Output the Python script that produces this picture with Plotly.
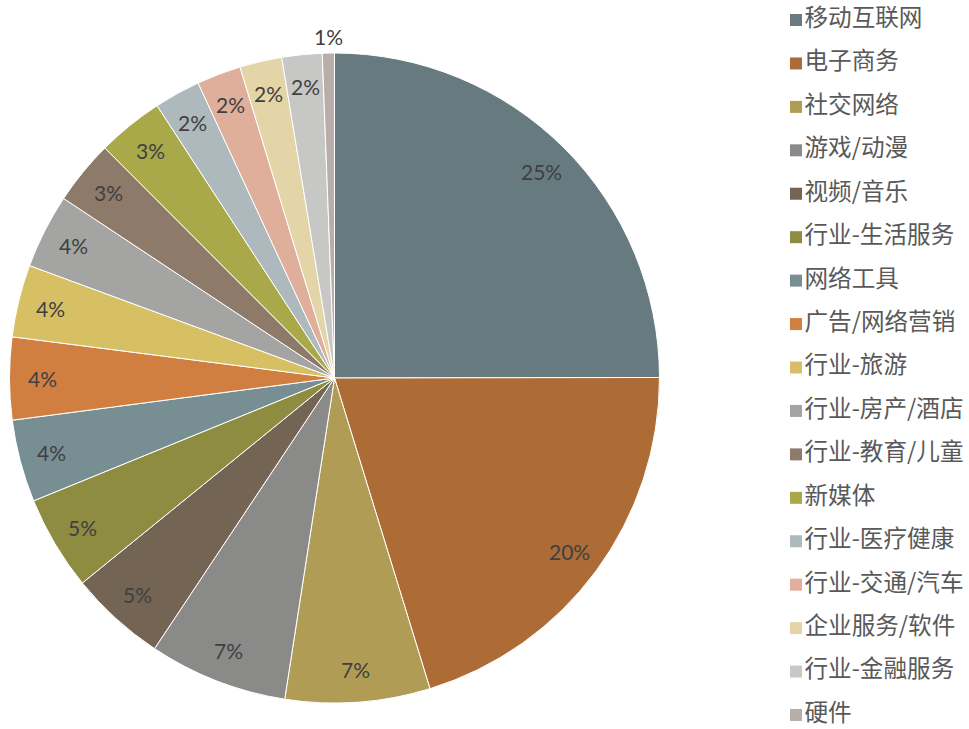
import numpy as np
import plotly.graph_objects as go

categories = ["移动互联网", "电子商务", "社交网络", "游戏/动漫", "视频/音乐", "行业-生活服务",
              "网络工具", "广告/网络营销", "行业-旅游", "行业-房产/酒店", "行业-教育/儿童",
              "新媒体", "行业-医疗健康", "行业-交通/汽车", "企业服务/软件", "行业-金融服务", "硬件"]
values = [25.0, 20.3, 7.2, 6.9, 4.8, 4.7, 4.1, 4.1, 3.6, 3.7, 3.2, 3.3, 2.3, 2.2, 2.1, 2.0, 0.6]
colors = ["#677A7F", "#AD6C36", "#B09C55", "#8A8B89", "#736454", "#8D8C40",
          "#778E93", "#D17F40", "#D7BF64", "#A4A5A3", "#8E7A69", "#A9A94A",
          "#ADB9BC", "#DFAF9C", "#E3D5A8", "#C7C7C6", "#B8AEA9"]

W, H = 969, 729
cx, cy, r = 334.5, 378.0, 325.0

fig = go.Figure()
fig.add_trace(go.Pie(
    labels=categories, values=values, sort=False, direction="clockwise", rotation=0,
    marker=dict(colors=colors, line=dict(color="white", width=1)),
    textinfo="none", showlegend=False,
    domain=dict(x=[(cx - r) / W, (cx + r) / W], y=[1 - (cy + r) / H, 1 - (cy - r) / H]),
))

# legend drawn as a marker+text scatter on hidden axes (one row per category)
n = len(categories)
rows = list(range(n))
first_px, last_px = 20.0, 715.0
step = (last_px - first_px) / (n - 1)
top_val = -first_px / step
bottom_val = top_val + H / step
fig.add_trace(go.Scatter(
    x=[0.0] * n, y=rows, mode="markers+text", text=categories, textposition="middle right",
    marker=dict(symbol="square", size=12, color=colors, line=dict(width=0)),
    textfont=dict(family="Noto Sans CJK SC", size=23.6, color="#595959"),
    cliponaxis=False, showlegend=False, hoverinfo="skip",
))

vals = np.array(values)
total = vals.sum()
cum = np.cumsum(vals) - vals / 2
theta = 2 * np.pi * cum / total
for v, t in zip(vals, theta):
    pct = v / total * 100
    rr = r * (1.05 if pct < 1.5 else 0.9)
    px = cx + rr * np.sin(t)
    py = cy - rr * np.cos(t)
    fig.add_annotation(x=px / W, y=1 - py / H, xref="paper", yref="paper",
                       xanchor="center", yanchor="middle",
                       text=f"{round(pct)}%", showarrow=False,
                       font=dict(family="Lato", size=21, color="#404040"))

marker_x = 796 / W
fig.update_layout(
    width=W, height=H, margin=dict(l=0, r=0, t=0, b=0),
    paper_bgcolor="white", plot_bgcolor="rgba(0,0,0,0)",
    xaxis=dict(visible=False, domain=[0, 1], range=[-marker_x, 1 - marker_x], fixedrange=True),
    yaxis=dict(visible=False, domain=[0, 1], range=[bottom_val, top_val], fixedrange=True),
    showlegend=False,
)
fig.write_html("out.html", config={"displayModeBar": False},
               post_script="document.body.style.margin='0';")
